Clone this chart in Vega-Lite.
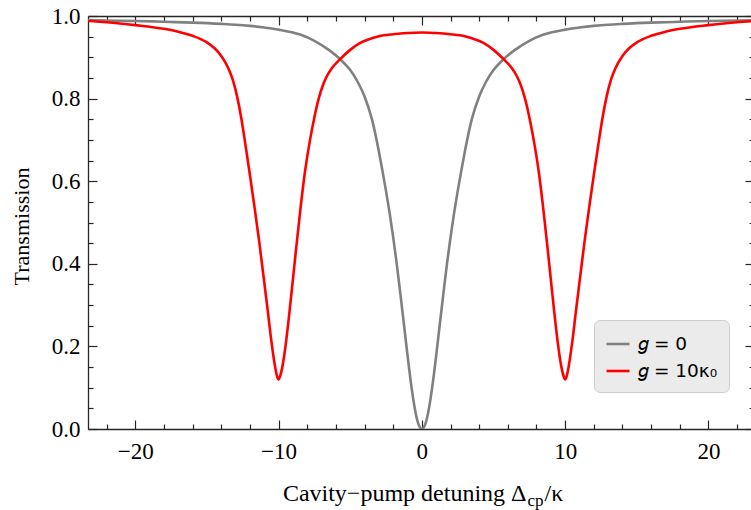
{
  "$schema": "https://vega.github.io/schema/vega-lite/v6.json",
  "width": 663,
  "height": 413,
  "autosize": {"type": "none"},
  "padding": {"left": 88, "top": 16, "right": 0, "bottom": 81},
  "background": "white",
  "config": {
    "view": {"stroke": null},
    "axis": {
      "grid": false,
      "labelFont": "Liberation Serif",
      "labelFontSize": 23,
      "labelColor": "black",
      "titleFont": "Liberation Serif",
      "titleFontSize": 24,
      "titleFontWeight": "normal",
      "titleColor": "black",
      "domainColor": "#262626",
      "domainWidth": 1.3,
      "tickColor": "#262626",
      "tickWidth": 1.2
    },
    "legend": {
      "orient": "none",
      "legendX": 506,
      "legendY": 304,
      "fillColor": "#ebebeb",
      "strokeColor": "#cccccc",
      "cornerRadius": 6,
      "padding": 11,
      "symbolType": "stroke",
      "symbolSize": 529,
      "symbolStrokeWidth": 2.6,
      "labelFont": "DejaVu Sans",
      "labelFontSize": 18.5,
      "labelColor": "black",
      "labelOffset": 7,
      "rowPadding": 4
    }
  },
  "data": {
    "values": [
      {"x": -23.3, "T": 0.990, "s": "𝑔 = 0"},
      {"x": -22, "T": 0.989, "s": "𝑔 = 0"},
      {"x": -20, "T": 0.988, "s": "𝑔 = 0"},
      {"x": -18, "T": 0.986, "s": "𝑔 = 0"},
      {"x": -16, "T": 0.984, "s": "𝑔 = 0"},
      {"x": -14, "T": 0.981, "s": "𝑔 = 0"},
      {"x": -13, "T": 0.979, "s": "𝑔 = 0"},
      {"x": -12, "T": 0.976, "s": "𝑔 = 0"},
      {"x": -11, "T": 0.972, "s": "𝑔 = 0"},
      {"x": -10, "T": 0.967, "s": "𝑔 = 0"},
      {"x": -8.5, "T": 0.955, "s": "𝑔 = 0"},
      {"x": -7.5, "T": 0.940, "s": "𝑔 = 0"},
      {"x": -6.5, "T": 0.918, "s": "𝑔 = 0"},
      {"x": -5.72, "T": 0.896, "s": "𝑔 = 0"},
      {"x": -5, "T": 0.869, "s": "𝑔 = 0"},
      {"x": -4.5, "T": 0.842, "s": "𝑔 = 0"},
      {"x": -4, "T": 0.805, "s": "𝑔 = 0"},
      {"x": -3.5, "T": 0.752, "s": "𝑔 = 0"},
      {"x": -3, "T": 0.672, "s": "𝑔 = 0"},
      {"x": -2.75, "T": 0.625, "s": "𝑔 = 0"},
      {"x": -2.5, "T": 0.576, "s": "𝑔 = 0"},
      {"x": -2.25, "T": 0.523, "s": "𝑔 = 0"},
      {"x": -2, "T": 0.464, "s": "𝑔 = 0"},
      {"x": -1.75, "T": 0.399, "s": "𝑔 = 0"},
      {"x": -1.5, "T": 0.327, "s": "𝑔 = 0"},
      {"x": -1.25, "T": 0.253, "s": "𝑔 = 0"},
      {"x": -1, "T": 0.178, "s": "𝑔 = 0"},
      {"x": -0.75, "T": 0.108, "s": "𝑔 = 0"},
      {"x": -0.5, "T": 0.051, "s": "𝑔 = 0"},
      {"x": -0.25, "T": 0.013, "s": "𝑔 = 0"},
      {"x": 0, "T": 0.0, "s": "𝑔 = 0"},
      {"x": 0.25, "T": 0.013, "s": "𝑔 = 0"},
      {"x": 0.5, "T": 0.051, "s": "𝑔 = 0"},
      {"x": 0.75, "T": 0.108, "s": "𝑔 = 0"},
      {"x": 1, "T": 0.178, "s": "𝑔 = 0"},
      {"x": 1.25, "T": 0.253, "s": "𝑔 = 0"},
      {"x": 1.5, "T": 0.327, "s": "𝑔 = 0"},
      {"x": 1.75, "T": 0.399, "s": "𝑔 = 0"},
      {"x": 2, "T": 0.464, "s": "𝑔 = 0"},
      {"x": 2.25, "T": 0.523, "s": "𝑔 = 0"},
      {"x": 2.5, "T": 0.576, "s": "𝑔 = 0"},
      {"x": 2.75, "T": 0.625, "s": "𝑔 = 0"},
      {"x": 3, "T": 0.672, "s": "𝑔 = 0"},
      {"x": 3.5, "T": 0.752, "s": "𝑔 = 0"},
      {"x": 4, "T": 0.805, "s": "𝑔 = 0"},
      {"x": 4.5, "T": 0.842, "s": "𝑔 = 0"},
      {"x": 5, "T": 0.869, "s": "𝑔 = 0"},
      {"x": 5.72, "T": 0.896, "s": "𝑔 = 0"},
      {"x": 6.5, "T": 0.918, "s": "𝑔 = 0"},
      {"x": 7.5, "T": 0.940, "s": "𝑔 = 0"},
      {"x": 8.5, "T": 0.955, "s": "𝑔 = 0"},
      {"x": 10, "T": 0.967, "s": "𝑔 = 0"},
      {"x": 11, "T": 0.972, "s": "𝑔 = 0"},
      {"x": 12, "T": 0.976, "s": "𝑔 = 0"},
      {"x": 13, "T": 0.979, "s": "𝑔 = 0"},
      {"x": 14, "T": 0.981, "s": "𝑔 = 0"},
      {"x": 16, "T": 0.984, "s": "𝑔 = 0"},
      {"x": 18, "T": 0.986, "s": "𝑔 = 0"},
      {"x": 20, "T": 0.988, "s": "𝑔 = 0"},
      {"x": 22, "T": 0.989, "s": "𝑔 = 0"},
      {"x": 23.3, "T": 0.990, "s": "𝑔 = 0"},
      {"x": -23.3, "T": 0.988, "s": "𝑔 = 10κ₀"},
      {"x": -22, "T": 0.985, "s": "𝑔 = 10κ₀"},
      {"x": -20, "T": 0.978, "s": "𝑔 = 10κ₀"},
      {"x": -18, "T": 0.969, "s": "𝑔 = 10κ₀"},
      {"x": -17, "T": 0.962, "s": "𝑔 = 10κ₀"},
      {"x": -16, "T": 0.952, "s": "𝑔 = 10κ₀"},
      {"x": -15, "T": 0.936, "s": "𝑔 = 10κ₀"},
      {"x": -14.5, "T": 0.923, "s": "𝑔 = 10κ₀"},
      {"x": -14, "T": 0.903, "s": "𝑔 = 10κ₀"},
      {"x": -13.5, "T": 0.873, "s": "𝑔 = 10κ₀"},
      {"x": -13.2, "T": 0.846, "s": "𝑔 = 10κ₀"},
      {"x": -12.9, "T": 0.806, "s": "𝑔 = 10κ₀"},
      {"x": -12.6, "T": 0.752, "s": "𝑔 = 10κ₀"},
      {"x": -12.35, "T": 0.697, "s": "𝑔 = 10κ₀"},
      {"x": -12, "T": 0.615, "s": "𝑔 = 10κ₀"},
      {"x": -11.65, "T": 0.53, "s": "𝑔 = 10κ₀"},
      {"x": -11.35, "T": 0.453, "s": "𝑔 = 10κ₀"},
      {"x": -11.07, "T": 0.375, "s": "𝑔 = 10κ₀"},
      {"x": -10.75, "T": 0.285, "s": "𝑔 = 10κ₀"},
      {"x": -10.5, "T": 0.212, "s": "𝑔 = 10κ₀"},
      {"x": -10.25, "T": 0.152, "s": "𝑔 = 10κ₀"},
      {"x": -10.1, "T": 0.127, "s": "𝑔 = 10κ₀"},
      {"x": -10, "T": 0.12, "s": "𝑔 = 10κ₀"},
      {"x": -9.9, "T": 0.127, "s": "𝑔 = 10κ₀"},
      {"x": -9.75, "T": 0.148, "s": "𝑔 = 10κ₀"},
      {"x": -9.5, "T": 0.205, "s": "𝑔 = 10κ₀"},
      {"x": -9.25, "T": 0.28, "s": "𝑔 = 10κ₀"},
      {"x": -9, "T": 0.362, "s": "𝑔 = 10κ₀"},
      {"x": -8.75, "T": 0.445, "s": "𝑔 = 10κ₀"},
      {"x": -8.5, "T": 0.525, "s": "𝑔 = 10κ₀"},
      {"x": -8.2, "T": 0.612, "s": "𝑔 = 10κ₀"},
      {"x": -7.82, "T": 0.697, "s": "𝑔 = 10κ₀"},
      {"x": -7.5, "T": 0.755, "s": "𝑔 = 10κ₀"},
      {"x": -7.2, "T": 0.8, "s": "𝑔 = 10κ₀"},
      {"x": -6.9, "T": 0.833, "s": "𝑔 = 10κ₀"},
      {"x": -6.65, "T": 0.853, "s": "𝑔 = 10κ₀"},
      {"x": -6.3, "T": 0.873, "s": "𝑔 = 10κ₀"},
      {"x": -5.72, "T": 0.895, "s": "𝑔 = 10κ₀"},
      {"x": -5, "T": 0.918, "s": "𝑔 = 10κ₀"},
      {"x": -4.3, "T": 0.935, "s": "𝑔 = 10κ₀"},
      {"x": -3.5, "T": 0.946, "s": "𝑔 = 10κ₀"},
      {"x": -3, "T": 0.951, "s": "𝑔 = 10κ₀"},
      {"x": -2, "T": 0.956, "s": "𝑔 = 10κ₀"},
      {"x": -1, "T": 0.959, "s": "𝑔 = 10κ₀"},
      {"x": 0, "T": 0.96, "s": "𝑔 = 10κ₀"},
      {"x": 1, "T": 0.959, "s": "𝑔 = 10κ₀"},
      {"x": 2, "T": 0.956, "s": "𝑔 = 10κ₀"},
      {"x": 3, "T": 0.951, "s": "𝑔 = 10κ₀"},
      {"x": 3.5, "T": 0.946, "s": "𝑔 = 10κ₀"},
      {"x": 4.3, "T": 0.935, "s": "𝑔 = 10κ₀"},
      {"x": 5, "T": 0.918, "s": "𝑔 = 10κ₀"},
      {"x": 5.72, "T": 0.895, "s": "𝑔 = 10κ₀"},
      {"x": 6.3, "T": 0.873, "s": "𝑔 = 10κ₀"},
      {"x": 6.65, "T": 0.853, "s": "𝑔 = 10κ₀"},
      {"x": 6.9, "T": 0.833, "s": "𝑔 = 10κ₀"},
      {"x": 7.2, "T": 0.8, "s": "𝑔 = 10κ₀"},
      {"x": 7.5, "T": 0.755, "s": "𝑔 = 10κ₀"},
      {"x": 7.82, "T": 0.697, "s": "𝑔 = 10κ₀"},
      {"x": 8.2, "T": 0.612, "s": "𝑔 = 10κ₀"},
      {"x": 8.5, "T": 0.525, "s": "𝑔 = 10κ₀"},
      {"x": 8.75, "T": 0.445, "s": "𝑔 = 10κ₀"},
      {"x": 9, "T": 0.362, "s": "𝑔 = 10κ₀"},
      {"x": 9.25, "T": 0.28, "s": "𝑔 = 10κ₀"},
      {"x": 9.5, "T": 0.205, "s": "𝑔 = 10κ₀"},
      {"x": 9.75, "T": 0.148, "s": "𝑔 = 10κ₀"},
      {"x": 9.9, "T": 0.127, "s": "𝑔 = 10κ₀"},
      {"x": 10, "T": 0.12, "s": "𝑔 = 10κ₀"},
      {"x": 10.1, "T": 0.127, "s": "𝑔 = 10κ₀"},
      {"x": 10.25, "T": 0.152, "s": "𝑔 = 10κ₀"},
      {"x": 10.5, "T": 0.212, "s": "𝑔 = 10κ₀"},
      {"x": 10.75, "T": 0.285, "s": "𝑔 = 10κ₀"},
      {"x": 11.07, "T": 0.375, "s": "𝑔 = 10κ₀"},
      {"x": 11.35, "T": 0.453, "s": "𝑔 = 10κ₀"},
      {"x": 11.65, "T": 0.53, "s": "𝑔 = 10κ₀"},
      {"x": 12, "T": 0.615, "s": "𝑔 = 10κ₀"},
      {"x": 12.35, "T": 0.697, "s": "𝑔 = 10κ₀"},
      {"x": 12.6, "T": 0.752, "s": "𝑔 = 10κ₀"},
      {"x": 12.9, "T": 0.806, "s": "𝑔 = 10κ₀"},
      {"x": 13.2, "T": 0.846, "s": "𝑔 = 10κ₀"},
      {"x": 13.5, "T": 0.873, "s": "𝑔 = 10κ₀"},
      {"x": 14, "T": 0.903, "s": "𝑔 = 10κ₀"},
      {"x": 14.5, "T": 0.923, "s": "𝑔 = 10κ₀"},
      {"x": 15, "T": 0.936, "s": "𝑔 = 10κ₀"},
      {"x": 16, "T": 0.952, "s": "𝑔 = 10κ₀"},
      {"x": 17, "T": 0.962, "s": "𝑔 = 10κ₀"},
      {"x": 18, "T": 0.969, "s": "𝑔 = 10κ₀"},
      {"x": 20, "T": 0.978, "s": "𝑔 = 10κ₀"},
      {"x": 22, "T": 0.985, "s": "𝑔 = 10κ₀"},
      {"x": 23.3, "T": 0.988, "s": "𝑔 = 10κ₀"}
    ]
  },
  "layer": [
    {
      "mark": {"type": "line", "strokeWidth": 2.6, "interpolate": "monotone", "clip": true},
      "encoding": {
        "x": {
          "field": "x", "type": "quantitative",
          "scale": {"domain": [-23.3, 22.97], "nice": false, "zero": false},
          "axis": {
            "orient": "bottom", "values": [-20, -10, 0, 10, 20], "format": "d",
            "ticks": false, "domain": true, "labelPadding": 11, "labelFlush": false, "labelOverlap": false,
            "title": "Cavity−pump detuning Δ", "titleX": 438, "titleY": 71,
            "titleAlign": "right", "titleBaseline": "alphabetic"
          }
        },
        "y": {
          "field": "T", "type": "quantitative",
          "scale": {"domain": [0, 1], "nice": false, "zero": false},
          "axis": {
            "orient": "left", "values": [0, 0.2, 0.4, 0.6, 0.8, 1.0], "format": ".1f",
            "ticks": false, "domain": true, "labelPadding": 8, "labelFlush": false, "labelOverlap": false,
            "title": "Transmission", "titleFontSize": 22, "titleX": -67, "titleY": 210, "titleAngle": -90,
            "titleAlign": "center", "titleBaseline": "middle"
          }
        },
        "color": {
          "field": "s", "type": "nominal",
          "scale": {"domain": ["𝑔 = 0", "𝑔 = 10κ₀"], "range": ["#808080", "#ff0000"]},
          "legend": {"title": null}
        }
      }
    },
    {
      "mark": {"type": "line", "opacity": 0},
      "encoding": {
        "x": {
          "field": "x", "type": "quantitative",
          "axis": {
            "orient": "bottom", "values": [-20, -10, 0, 10, 20], "labels": false, "domain": false,
            "tickSize": -9, "title": "cp", "titleFontSize": 17, "titleX": 439, "titleY": 76,
            "titleAlign": "left", "titleBaseline": "alphabetic"
          }
        },
        "y": {
          "field": "T", "type": "quantitative",
          "axis": {"orient": "left", "values": [0, 0.2, 0.4, 0.6, 0.8, 1.0], "labels": false, "domain": false, "tickSize": -9, "title": null}
        }
      }
    },
    {
      "mark": {"type": "line", "opacity": 0},
      "encoding": {
        "x": {
          "field": "x", "type": "quantitative",
          "axis": {
            "orient": "bottom", "values": [-22, -18, -16, -14, -12, -8, -6, -4, -2, 2, 4, 6, 8, 12, 14, 16, 18, 22],
            "labels": false, "domain": false, "tickSize": -5,
            "title": "/κ", "titleX": 456, "titleY": 71, "titleAlign": "left", "titleBaseline": "alphabetic"
          }
        },
        "y": {
          "field": "T", "type": "quantitative",
          "axis": {
            "orient": "left",
            "values": [0.05, 0.1, 0.15, 0.25, 0.3, 0.35, 0.45, 0.5, 0.55, 0.65, 0.7, 0.75, 0.85, 0.9, 0.95],
            "labels": false, "domain": false, "tickSize": -5, "title": null
          }
        }
      }
    },
    {
      "mark": {"type": "line", "opacity": 0},
      "encoding": {
        "x": {
          "field": "x", "type": "quantitative",
          "axis": {"orient": "top", "values": [-20, -10, 0, 10, 20], "labels": false, "domain": true, "tickSize": -9, "title": null}
        },
        "y": {
          "field": "T", "type": "quantitative",
          "axis": {"orient": "right", "values": [0, 0.2, 0.4, 0.6, 0.8, 1.0], "labels": false, "domain": false, "tickSize": -6, "title": null}
        }
      }
    },
    {
      "mark": {"type": "line", "opacity": 0},
      "encoding": {
        "x": {
          "field": "x", "type": "quantitative",
          "axis": {
            "orient": "top", "values": [-22, -18, -16, -14, -12, -8, -6, -4, -2, 2, 4, 6, 8, 12, 14, 16, 18, 22],
            "labels": false, "domain": false, "tickSize": -5, "title": null
          }
        },
        "y": {
          "field": "T", "type": "quantitative",
          "axis": {
            "orient": "right",
            "values": [0.05, 0.1, 0.15, 0.25, 0.3, 0.35, 0.45, 0.5, 0.55, 0.65, 0.7, 0.75, 0.85, 0.9, 0.95],
            "labels": false, "domain": false, "tickSize": -2, "title": null
          }
        }
      }
    }
  ],
  "resolve": {"axis": {"x": "independent", "y": "independent"}}
}
